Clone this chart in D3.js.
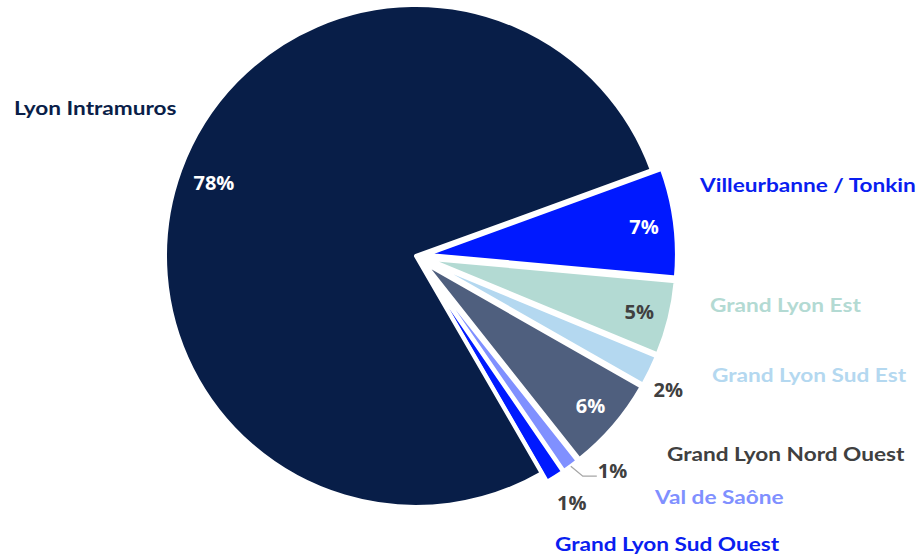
<!DOCTYPE html>
<html>
<head>
<meta charset="utf-8">
<script src="https://cdn.jsdelivr.net/npm/d3@7"></script>
<style>
  html, body { margin: 0; padding: 0; background: #ffffff; }
  svg { display: block; }
</style>
</head>
<body>
<svg id="chart" width="920" height="558"></svg>
<script>
// ---- data ----
const categories = ["Villeurbanne / Tonkin", "Grand Lyon Est", "Grand Lyon Sud Est",
  "Grand Lyon Nord Ouest", "Val de Saône", "Grand Lyon Sud Ouest", "Lyon Intramuros"];
const shares = [7.0, 4.8, 2.0, 6.1, 1.1, 1.2, 77.8];
const percentLabels = ["7%", "5%", "2%", "6%", "1%", "1%", "78%"];

// ---- styles ----
const sliceColors = ["#0019FF", "#B3DAD3", "#B4D8F0", "#4F5F7E", "#8090FF", "#0019FF", "#081E48"];
const nameColors = ["#0A1EF0", "#B3DAD3", "#B4D8F0", "#404040", "#8090FF", "#0A1EF0", "#0A1E48"];
const pctColors = ["#ffffff", "#404040", "#404040", "#ffffff", "#404040", "#404040", "#ffffff"];

// ---- layout ----
const W = 920, H = 558;
const cx = 416, cy = 256, R = 251;
const explode = [10, 10, 10, 10, 10, 10, 0];
const startDeg = 70;
const pctRadius = [220, 220, 272, 220, null, 282, 215];
const pctNudge = [[0,0],[0,0],[-1,10],[0,0],[0,0],[0,0],[0,0]];
const namePos = [[700,192],[710,312],[712,382],[667,461],[655,504],[555,551],[14,115]];
const nameStretch = 1.19;

const svg = d3.select("#chart");
const pie = d3.pie().sort(null).value(d => d)
  .startAngle(startDeg * Math.PI / 180)
  .endAngle(startDeg * Math.PI / 180 + 2 * Math.PI);
const arcs = pie(shares);
const arc = d3.arc().innerRadius(0).outerRadius(R);

const dir = a => [Math.sin(a), -Math.cos(a)];

const g = svg.append("g").attr("transform", `translate(${cx},${cy})`);

const slices = g.selectAll("g.slice").data(arcs).enter().append("g")
  .attr("class", "slice")
  .attr("transform", (d, i) => {
    const m = (d.startAngle + d.endAngle) / 2;
    const [dx, dy] = dir(m);
    return `translate(${dx * explode[i]},${dy * explode[i]})`;
  });

slices.append("path")
  .attr("d", arc)
  .attr("fill", (d, i) => sliceColors[i])
  .attr("stroke", "#ffffff")
  .attr("stroke-width", 4)
  .attr("stroke-linejoin", "round");

const pctFont = sel => sel
  .attr("font-family", "'Open Sans', sans-serif").attr("font-weight", 700)
  .attr("font-size", 20);

slices.each(function(d, i) {
  const sel = d3.select(this);
  const m = (d.startAngle + d.endAngle) / 2;
  const [ux, uy] = dir(m);
  if (pctRadius[i] === null) {
    const p0 = [ux * R, uy * R];
    const p1 = [p0[0] + 12, p0[1] + 10];
    const p2 = [p1[0] + 14, p1[1]];
    sel.append("polyline")
      .attr("points", [p0, p1, p2].map(p => p.join(",")).join(" "))
      .attr("fill", "none").attr("stroke", "#A6A6A6").attr("stroke-width", 1.3);
    sel.append("text")
      .attr("x", p2[0] + 1).attr("y", p2[1] - 6)
      .attr("dominant-baseline", "central")
      .call(pctFont).attr("fill", pctColors[i])
      .text(percentLabels[i]);
  } else {
    const r = pctRadius[i];
    sel.append("text")
      .attr("x", ux * r + pctNudge[i][0]).attr("y", uy * r + pctNudge[i][1])
      .attr("text-anchor", "middle").attr("dominant-baseline", "central")
      .call(pctFont).attr("fill", pctColors[i])
      .text(percentLabels[i]);
  }
});

// category names (geometric wide face imitated by horizontal stretch)
svg.selectAll("text.name").data(categories).enter().append("text")
  .attr("class", "name")
  .attr("x", (d, i) => namePos[i][0]).attr("y", (d, i) => namePos[i][1])
  .attr("font-family", "Lato, sans-serif").attr("font-weight", 700)
  .attr("font-size", 19).attr("fill", (d, i) => nameColors[i])
  .text(d => d)
  .each(function() {
    const w = this.getComputedTextLength();
    d3.select(this).attr("textLength", w * nameStretch).attr("lengthAdjust", "spacingAndGlyphs");
  });
</script>
</body>
</html>
